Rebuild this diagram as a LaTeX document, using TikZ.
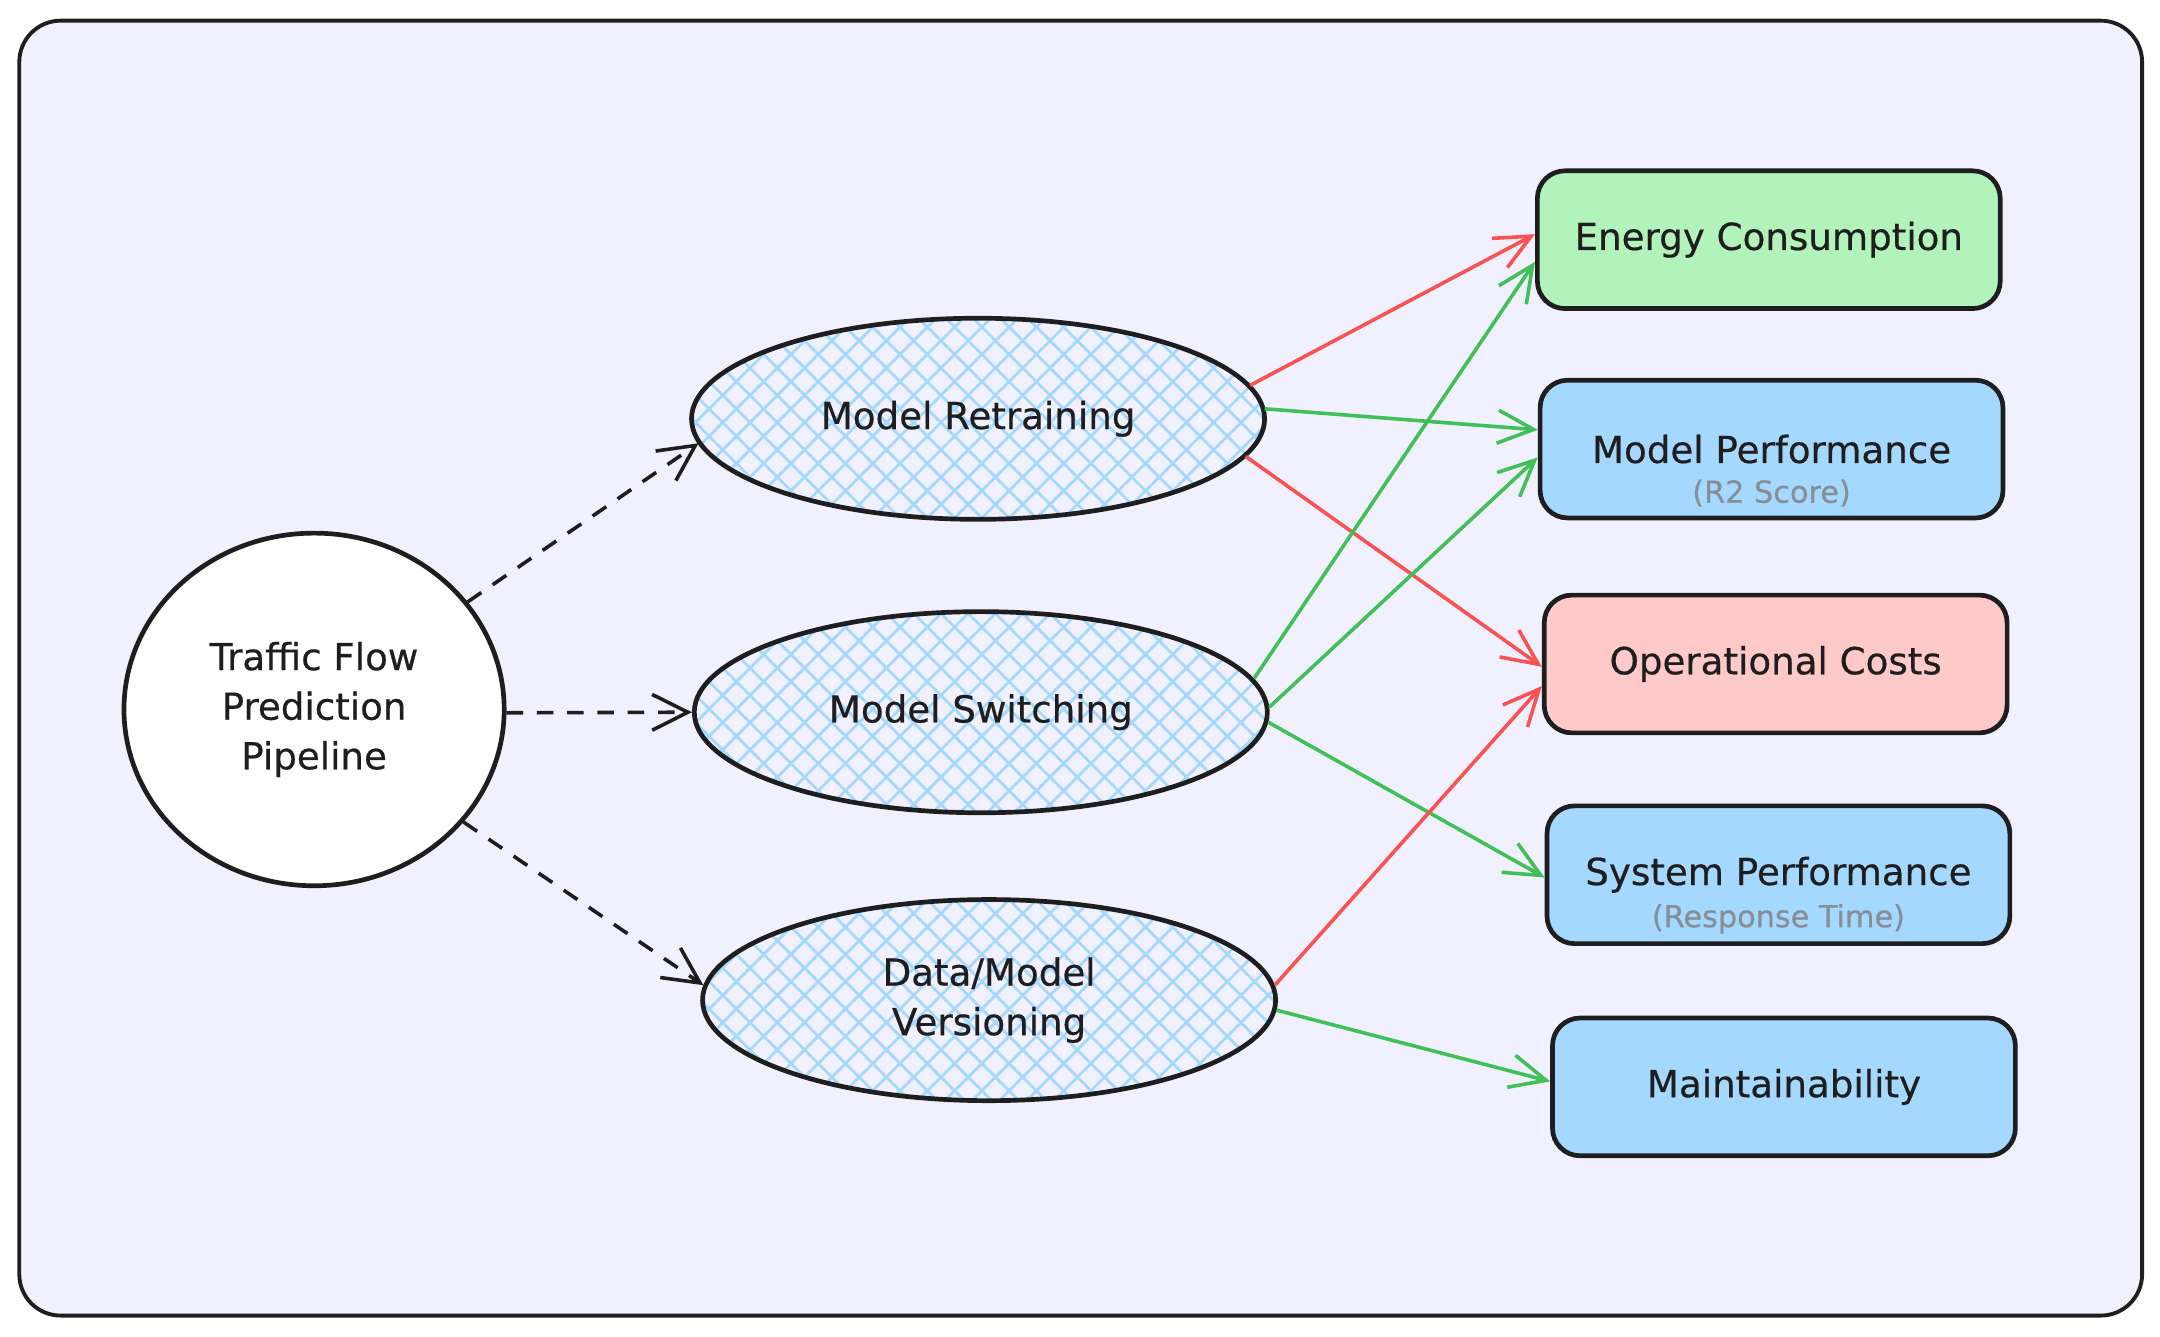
\documentclass[tikz,border=0pt]{standalone}
\usepackage{fontspec}
\setmainfont{DejaVu Sans}
\newfontfamily\labelfam[FakeBold=0.5]{DejaVu Sans}
\usetikzlibrary{arrows.meta,patterns.meta,shapes.geometric,calc}
\definecolor{bg}{HTML}{F1F0FE}
\definecolor{ink}{HTML}{1E1E1E}
\definecolor{boxgreen}{HTML}{B2F2BB}
\definecolor{boxblue}{HTML}{A5D8FF}
\definecolor{boxpink}{HTML}{FFC9C9}
\definecolor{hatchc}{HTML}{A5D8FF}
\definecolor{arrred}{HTML}{FA5252}
\definecolor{arrgreen}{HTML}{40C057}
\definecolor{subgray}{HTML}{868E96}
\newcommand{\mainf}{\labelfam\fontsize{13.5}{18}\selectfont}
\newcommand{\subf}{\labelfam\fontsize{11}{12}\selectfont}
\tikzset{
  frame/.style={draw=ink, line width=1.4pt, fill=bg, rounded corners=15pt},
  hub/.style={ellipse, draw=ink, line width=1.7pt, fill=white, minimum width=138pt, minimum height=128pt, inner sep=0pt, align=center, font=\mainf, text=ink},
  strat/.style={ellipse, draw=ink, line width=1.7pt, pattern={Hatch[angle=45,distance=7pt,line width=1pt]}, pattern color=hatchc, minimum width=208pt, minimum height=73pt, inner sep=0pt, align=center, font=\mainf, text=ink},
  box/.style={rectangle, rounded corners=10pt, draw=ink, line width=1.7pt, minimum width=168pt, minimum height=50pt, inner sep=0pt, font=\mainf, text=ink},
  sub/.style={font=\subf, text=subgray, inner sep=0pt},
  dasharrow/.style={draw=ink, line width=1.3pt, dash pattern=on 6pt off 5pt, -{Straight Barb[length=13pt,width=13pt,line width=1.3pt]}},
  goodarrow/.style={draw=arrgreen, line width=1.3pt, -{Straight Barb[length=13pt,width=12pt,line width=1.3pt]}},
  badarrow/.style={draw=arrred, line width=1.3pt, -{Straight Barb[length=13pt,width=12pt,line width=1.3pt]}},
}
\begin{document}
\begin{tikzpicture}[x=0.5pt,y=-0.5pt]
\useasboundingbox (0,0) rectangle (1568,970);
\draw[frame] (14,15) rectangle (1555,955);

\node[hub] (tf) at (228,515) {Traffic Flow\\Prediction\\Pipeline};

\node[strat] (mr) at (710,304) {Model Retraining};
\node[strat] (ms) at (712,517) {Model Switching};
\node[strat] (dv) at (718,726) {Data/Model\\Versioning};

\node[box, fill=boxgreen] (ec) at (1284,174) {Energy Consumption};
\node[box, fill=boxblue] (mp) at (1286,326) {Model Performance};
\node[sub] (mpsub) at (1286,358) {(R2 Score)};
\node[box, fill=boxpink] (oc) at (1289,482) {Operational Costs};
\node[box, fill=boxblue] (sp) at (1291,635) {System Performance};
\node[sub] (spsub) at (1291,667) {(Response Time)};
\node[box, fill=boxblue] (ma) at (1295,789) {Maintainability};

\draw[dasharrow] (tf.35) -- (mr.185);
\draw[dasharrow] (tf.-1) -- (ms.west);
\draw[dasharrow] (tf.-37) -- (dv.177);

\draw[badarrow] (mr.7) -- ($(ec.west)+(0,-4)$);
\draw[goodarrow] (mr.2) -- ($(mp.west)+(0,-14)$);
\draw[badarrow] (mr.-8) -- ($(oc.west)+(0,2)$);
\draw[goodarrow] (ms.7) -- ($(ec.west)+(0,16)$);
\draw[goodarrow] (ms.1) -- ($(mp.west)+(0,6)$);
\draw[goodarrow] (ms.-2) -- ($(sp.west)+(0,2)$);
\draw[badarrow] (dv.3) -- ($(oc.west)+(0,16)$);
\draw[goodarrow] (dv.-2) -- ($(ma.west)+(0,-4)$);
\end{tikzpicture}
\end{document}
